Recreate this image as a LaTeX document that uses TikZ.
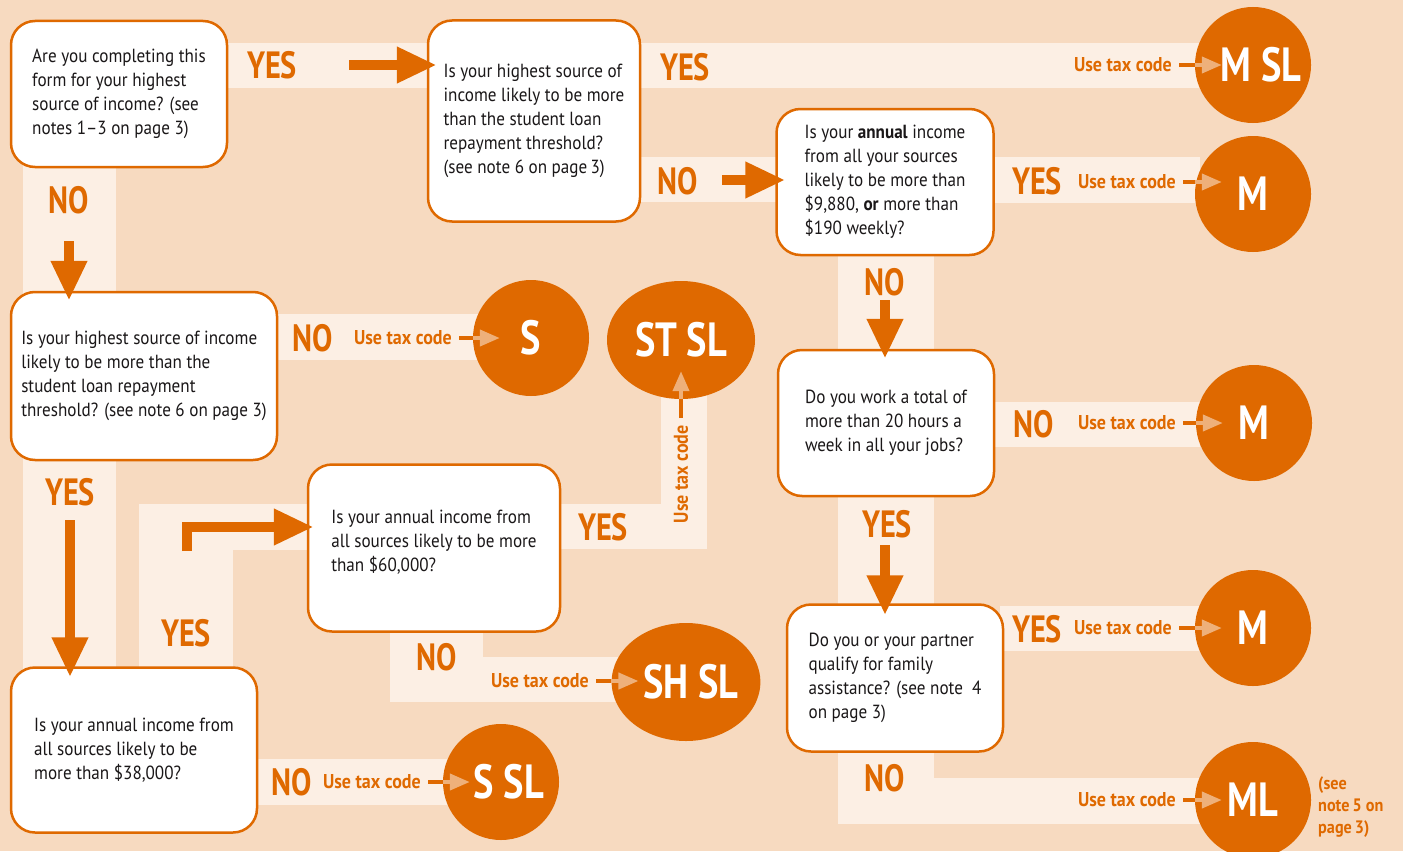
\documentclass[tikz,border=0pt]{standalone}
\usepackage{fontspec}
\setmainfont{PT Sans}[FakeStretch=0.9]
\newfontfamily\narrowfont{PT Sans}[FakeStretch=0.8]
\usetikzlibrary{arrows.meta,shapes.geometric}
\definecolor{pagebg}{HTML}{F7DAC0}
\definecolor{band}{HTML}{FCEFE4}
\definecolor{codeorange}{HTML}{DF6900}
\definecolor{codelight}{HTML}{EEB07A}
\definecolor{ink}{HTML}{1A1718}
\tikzset{
  question/.style={draw=codeorange, line width=2.5pt, fill=white, rounded corners=24pt,
    align=left, text=ink, inner sep=0pt, font=\fontsize{19}{24}\selectfont},
  code/.style={circle, fill=codeorange, text=white, inner sep=0pt, minimum size=116pt,
    font=\narrowfont\bfseries\fontsize{48}{48}\selectfont},
  widecode/.style={code, ellipse, minimum width=148pt, minimum height=118pt},
  answer/.style={text=codeorange, inner sep=0pt, font=\narrowfont\bfseries\fontsize{38}{38}\selectfont},
  usecode/.style={text=codeorange, inner sep=0pt, font=\bfseries\fontsize{20}{20}\selectfont},
  bigarrow/.style={draw=codeorange, line width=10pt, -{Triangle[length=40pt,width=34pt]}},
  codebar/.style={draw=codeorange, line width=4pt},
  codetip/.style={draw=codelight, line width=4pt, -{Triangle[length=20pt,width=16pt]}},
  band/.style={fill=band}
}
\begin{document}
\begin{tikzpicture}[x=1pt,y=-1pt]
  \useasboundingbox (0,0) rectangle (1407,851);
  \clip (0,0) rectangle (1407,851);
  \fill[white] (0,0) rectangle (1407,851);
  \fill[pagebg] (0,0) rectangle (1403,851);

  % light paths behind the answers
  \fill[band] (220,43) rectangle (1200,88);
  \fill[band] (23,160) rectangle (116,300);
  \fill[band] (635,157) rectangle (780,202);
  \fill[band] (990,157) rectangle (1200,203);
  \fill[band] (270,314) rectangle (480,360);
  \fill[band] (23,455) rectangle (116,675);
  \fill[band] (139,504) rectangle (312,550);
  \fill[band] (139,504) rectangle (233,672);
  \fill[band] (555,504) rectangle (707,549);
  \fill[band] (661,390) rectangle (707,549);
  \fill[band] (390,625) rectangle (483,702);
  \fill[band] (390,657) rectangle (620,702);
  \fill[band] (250,759) rectangle (450,805);
  \fill[band] (838,250) rectangle (934,355);
  \fill[band] (838,490) rectangle (934,610);
  \fill[band] (990,402) rectangle (1200,447);
  \fill[band] (1000,606) rectangle (1200,651);
  \fill[band] (838,745) rectangle (934,824);
  \fill[band] (838,778) rectangle (1200,824);

  % questions
  \node[question, minimum width=216pt, minimum height=146pt] (first) at (119,94)
    {Are you completing this\\form for your highest\\source of income? (see\\notes 1--3 on page 3)};
  \node[question, minimum width=212pt, minimum height=201pt] (slmain) at (534,121)
    {Is your highest source of\\income likely to be more\\than the student loan\\repayment threshold?\\(see note 6 on page\,3)};
  \node[question, minimum width=217pt, minimum height=146pt] (annual) at (885,182)
    {Is your \textbf{annual} income\\from all your sources\\likely to be more than\\\$9,880, \textbf{or} more than\\\$190 weekly?};
  \node[question, minimum width=266pt, minimum height=168pt] (slsec) at (144,376)
    {Is your highest source of income\\likely to be more than the\\student loan repayment\\threshold? (see note 6 on page 3)};
  \node[question, minimum width=216pt, minimum height=146pt] (hours) at (886,423)
    {Do you work a total of\\more than 20 hours a\\week in all your jobs?};
  \node[question, minimum width=252pt, minimum height=167pt] (sixty) at (434,548)
    {Is your annual income from\\all sources likely to be more\\than \$60,000?\\[-10pt]};
  \node[question, minimum width=216pt, minimum height=147pt] (family) at (895,678)
    {Do you or your partner\\qualify for family\\assistance? (see note~ 4\\on page 3)};
  \node[question, minimum width=246pt, minimum height=165pt] (thirtyeight) at (134,750)
    {Is your annual income from\\all sources likely to be\\more than \$38,000?};

  % tax codes
  \node[code] (msl) at (1253,65) {\hspace{16pt}M SL};
  \node[code] (mtop) at (1253,194) {M};
  \node[code] (s) at (531,338) {S};
  \node[widecode] (stsl) at (681,340) {ST SL};
  \node[code] (mmid) at (1254,423) {M};
  \node[code] (mlow) at (1253,628) {M};
  \node[code] (ml) at (1253,800) {ML};
  \node[widecode] (shsl) at (686,682) {\hspace{10pt}SH SL};
  \node[code] (ssl) at (501,782) {\hspace{16pt}S SL};
  \node[usecode, align=left, anchor=west, font=\bfseries\fontsize{18}{22}\selectfont]
    (note) at (1318,807) {(see\\note\,5 on\\page\,3)};

  % answers
  \node[answer] (yes1) at (272,65) {YES};
  \node[answer] (no1) at (69,200) {NO};
  \node[answer] (yes2) at (685,67) {YES};
  \node[answer] (no2) at (678,181) {NO};
  \node[answer] (yes3) at (1037,181) {YES};
  \node[answer] (no3) at (885,282) {NO};
  \node[answer] (no4) at (313,338) {NO};
  \node[answer] (yes4) at (70,492) {YES};
  \node[answer] (yes5) at (603,527) {YES};
  \node[answer] (yes6) at (186,633) {YES};
  \node[answer] (no5) at (437,657) {NO};
  \node[answer] (no6) at (292,782) {NO};
  \node[answer] (no7) at (1034,424) {NO};
  \node[answer] (yes7) at (887,524) {YES};
  \node[answer] (yes8) at (1037,629) {YES};
  \node[answer] (no8) at (885,778) {NO};

  % big arrows
  \coordinate (a1) at (349,65);
  \coordinate (a2) at (69,241);
  \coordinate (a3) at (722,180);
  \coordinate (a4) at (70,520);
  \coordinate (a5) at (187,551);
  \coordinate (a6) at (885,300);
  \coordinate (a7) at (885,545);
  \draw[bigarrow, shorten >=-10pt] (a1) -- (a1 -| slmain.west);
  \draw[bigarrow, shorten >=-10pt] (a2) -- (a2 |- slsec.north);
  \draw[bigarrow, shorten >=-10pt] (a3) -- (a3 -| annual.west);
  \draw[bigarrow, shorten >=-11pt] (a4) -- (a4 |- thirtyeight.north);
  \draw[bigarrow, shorten >=-7pt] (a5) |- (sixty.west |- 0,527);
  \draw[bigarrow, shorten >=-10pt] (a6) -- (a6 |- hours.north);
  \draw[bigarrow, shorten >=-12pt] (a7) -- (a7 |- family.north);

  % use tax code
  \node[usecode, anchor=east] (u1) at (1172,65) {Use tax code};
  \node[usecode, anchor=east] (u2) at (1176,182) {Use tax code};
  \node[usecode, anchor=east] (u3) at (452,338) {Use tax code};
  \node[usecode, anchor=east] (u4) at (1176,423) {Use tax code};
  \node[usecode, anchor=east] (u5) at (1172,628) {Use tax code};
  \node[usecode, anchor=east] (u6) at (1176,800) {Use tax code};
  \node[usecode, anchor=east] (u7) at (589,681) {Use tax code};
  \node[usecode, anchor=east] (u8) at (421,782) {Use tax code};
  \node[usecode, rotate=90, anchor=east] (u9) at (681,425) {Use tax code};
  \foreach \lbl/\res in {u1/msl,u2/mtop,u3/s,u4/mmid,u5/mlow,u6/ml,u7/shsl,u8/ssl}{
    \draw[codebar] ([xshift=7pt]\lbl.east) -- (\lbl.east -| \res.west);
    \draw[codetip] (\lbl.east -| \res.west) -- ++(27,0);
  }
  \draw[codebar] ([yshift=7pt]u9.east) -- (u9.east |- stsl.south);
  \draw[codetip] (u9.east |- stsl.south) -- ++(0,-28);
\end{tikzpicture}
\end{document}
